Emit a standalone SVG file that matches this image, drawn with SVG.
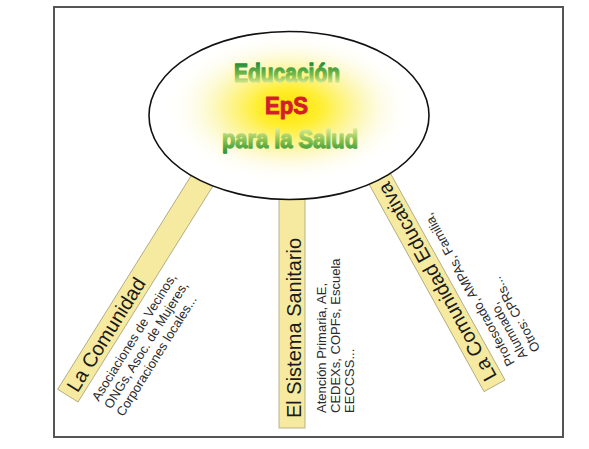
<svg xmlns="http://www.w3.org/2000/svg" width="589" height="449" viewBox="0 0 589 449">
  <defs>
    <radialGradient id="glow" cx="0.5" cy="0.5" r="0.5">
      <stop offset="0" stop-color="#ffe400"/>
      <stop offset="0.25" stop-color="#ffee30"/>
      <stop offset="0.55" stop-color="#fcf5a0" stop-opacity="0.85"/>
      <stop offset="0.8" stop-color="#fdfbe0" stop-opacity="0.45"/>
      <stop offset="1" stop-color="#ffffff" stop-opacity="0"/>
    </radialGradient>
    <linearGradient id="gTop" gradientUnits="userSpaceOnUse" x1="0" y1="63" x2="0" y2="84">
      <stop offset="0" stop-color="#1e8c3a"/>
      <stop offset="0.55" stop-color="#79b94a"/>
      <stop offset="1" stop-color="#e4ef9a"/>
    </linearGradient>
    <linearGradient id="gBot" gradientUnits="userSpaceOnUse" x1="0" y1="128" x2="0" y2="155">
      <stop offset="0" stop-color="#e2ee98"/>
      <stop offset="0.5" stop-color="#7fbd4a"/>
      <stop offset="1" stop-color="#1d8a36"/>
    </linearGradient>
    <style>
      .bar { fill: #f6eaa0; stroke: #aaa47c; stroke-width: 0.8; }
      .title { font-family: "Liberation Sans", Arial, sans-serif; font-size: 20px; fill: #1a1a1a; }
      .sub { font-family: "Liberation Sans", Arial, sans-serif; font-size: 13px; fill: #2a2a2a; }
      .big { font-family: "Liberation Sans", Arial, sans-serif; font-weight: bold; stroke-linejoin: round; }
    </style>
  </defs>
  <rect x="54" y="7" width="509" height="430" fill="#ffffff" stroke="#555555" stroke-width="2"/>

  <g id="node-comunidad" transform="translate(78,402) rotate(-58)">
    <rect class="bar" x="0" y="-24" width="275" height="24"/>
    <text class="title" x="7" y="-5">La Comunidad</text>
    <text class="sub" x="11" y="17.5">Asociaciones de Vecinos,</text>
    <text class="sub" x="11" y="32">ONGs, Asoc. de Mujeres,</text>
    <text class="sub" x="11" y="46.5">Corporaciones locales...</text>
  </g>

  <g id="node-sanitario">
    <rect class="bar" x="279" y="180" width="26" height="248"/>
    <text class="title" transform="translate(301,418) rotate(-90)">El Sistema Sanitario</text>
    <g transform="translate(0,413)">
      <text class="sub" transform="translate(326,0) rotate(-90)">Atención Primaria, AE,</text>
      <text class="sub" transform="translate(340,0) rotate(-90)">CEDEXs, COPFs, Escuela</text>
      <text class="sub" transform="translate(354,0) rotate(-90)">EECCSS...</text>
    </g>
  </g>

  <g id="node-educativa" transform="translate(505,380) rotate(-119)">
    <rect class="bar" x="0" y="-24" width="255" height="24"/>
    <text class="title" x="7" y="-5">La Comunidad Educativa</text>
    <text class="sub" x="10" y="17">Profesorado, AMPAs, Familia,</text>
    <text class="sub" x="10" y="31.5">Alumnado,</text>
    <text class="sub" x="10" y="46">Otros: CPRs...</text>
  </g>

  <g id="node-eps">
    <ellipse cx="289" cy="115.5" rx="140" ry="84" fill="#ffffff"/>
    <ellipse cx="289" cy="108" rx="125" ry="76" fill="url(#glow)"/>
    <ellipse cx="289" cy="115.5" rx="140" ry="84" fill="none" stroke="#111111" stroke-width="1.6"/>
    <text class="big" x="234" y="82" font-size="26" textLength="106" lengthAdjust="spacingAndGlyphs" fill="url(#gTop)" stroke="url(#gTop)" stroke-width="1.3">Educación</text>
    <text class="big" x="265" y="114" font-size="23" textLength="43" lengthAdjust="spacingAndGlyphs" fill="#d21e2c" stroke="#d21e2c" stroke-width="1">EpS</text>
    <text class="big" x="222" y="148" font-size="25" textLength="136" lengthAdjust="spacingAndGlyphs" fill="url(#gBot)" stroke="url(#gBot)" stroke-width="1.3">para la Salud</text>
  </g>
</svg>
